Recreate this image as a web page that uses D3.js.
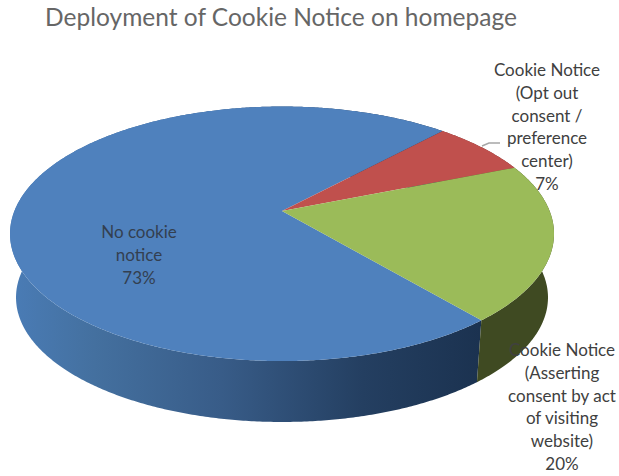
<!DOCTYPE html>
<html>
<head>
<meta charset="utf-8">
<script src="https://cdn.jsdelivr.net/npm/d3@7"></script>
<style>
html,body{margin:0;padding:0;background:#fff}
svg{display:block}
text{font-family:Lato,"Open Sans",sans-serif}
</style>
</head>
<body>
<svg id="chart" width="619" height="476"></svg>
<script>
const chartTitle = "Deployment of Cookie Notice on homepage";
const categories = ["No cookie notice", "Cookie Notice (Opt out consent / preference center)", "Cookie Notice (Asserting consent by act of visiting website)"];
const shares = [73, 7, 20];
const labelLines = [
  ["No cookie", "notice"],
  ["Cookie Notice", "(Opt out", "consent /", "preference", "center)"],
  ["Cookie Notice", "(Asserting", "consent by act", "of visiting", "website)"]
];
const topColors = ["#4f81bd", "#c0504d", "#9bbb59"];

const svg = d3.select("#chart");
const deg = Math.PI / 180;

// Tilted disc: a unit circle seen in perspective, so the hub sits above the rim's centre.
const tilt = 0.179;
function disc(cx, cy, a, b) {
  return angle => {
    const u = Math.sin(angle), v = -Math.cos(angle), w = 1 - tilt * v;
    return [cx + a * u / w, cy + b * v / w];
  };
}
const hub = [282, 211];
const topDisc = disc(hub[0], hub[1], 267.6, 123.2);
const baseDisc = disc(hub[0], 275.2, 261.7, 120.5);

const pie = d3.pie().sort(null).startAngle(140 * deg).endAngle(500 * deg);
const slices = pie(shares);
const line = d3.line();
const sweep = (s, step = 0.5 * deg) => {
  const out = d3.range(s.startAngle, s.endAngle, step);
  out.push(s.endAngle);
  return out;
};

// Horizontal shading on the outer wall
const defs = svg.append("defs");
const blueWall = defs.append("linearGradient").attr("id", "wall-blue")
  .attr("gradientUnits", "userSpaceOnUse").attr("x1", 10).attr("x2", 480).attr("y1", 0).attr("y2", 0);
[[0, "#4a7cb6"], [0.18, "#44709f"], [0.45, "#385c88"], [0.75, "#243f61"], [1, "#1b3250"]]
  .forEach(([o, c]) => blueWall.append("stop").attr("offset", o).attr("stop-color", c));
const wallFills = ["url(#wall-blue)", "#6d2f2d", "#3f4a22"];

// Each wall is a strip of quads between the two rims, so its outline follows the tangent edges.
// The top face drawn afterwards hides the rear half.
svg.append("g").selectAll("path").data(slices).join("path")
  .attr("fill", (d, i) => wallFills[i])
  .attr("d", d => {
    const a = sweep(d);
    return d3.pairs(a).map(([p, q]) =>
      line([topDisc(p), topDisc(q), baseDisc(q), baseDisc(p)]) + "Z").join("");
  });

svg.append("g").selectAll("path").data(slices).join("path")
  .attr("fill", (d, i) => topColors[i])
  .attr("d", d => line([hub].concat(sweep(d).map(topDisc))) + "Z");

// Leader from the small slice to its label
svg.append("polyline")
  .attr("points", "482,146 489,143 500,143")
  .attr("fill", "none").attr("stroke", "#a6a6a6").attr("stroke-width", 1.5);

svg.append("text")
  .attr("x", 281).attr("y", 25.5).attr("text-anchor", "middle")
  .attr("font-size", 24.5).attr("fill", "#666666").text(chartTitle);

const labelAnchors = [[139, 238], [547, 76], [562, 356]];
const labelColors = ["#333f50", "#404040", "#404040"];
const rowHeight = 22.8;
labelLines.forEach((rows, i) => {
  const t = svg.append("text").attr("text-anchor", "middle")
    .attr("font-size", 17).attr("fill", labelColors[i]);
  rows.concat([shares[i] + "%"]).forEach((r, k) => {
    t.append("tspan").attr("x", labelAnchors[i][0])
      .attr("y", labelAnchors[i][1] + k * rowHeight).text(r);
  });
});
</script>
</body>
</html>
